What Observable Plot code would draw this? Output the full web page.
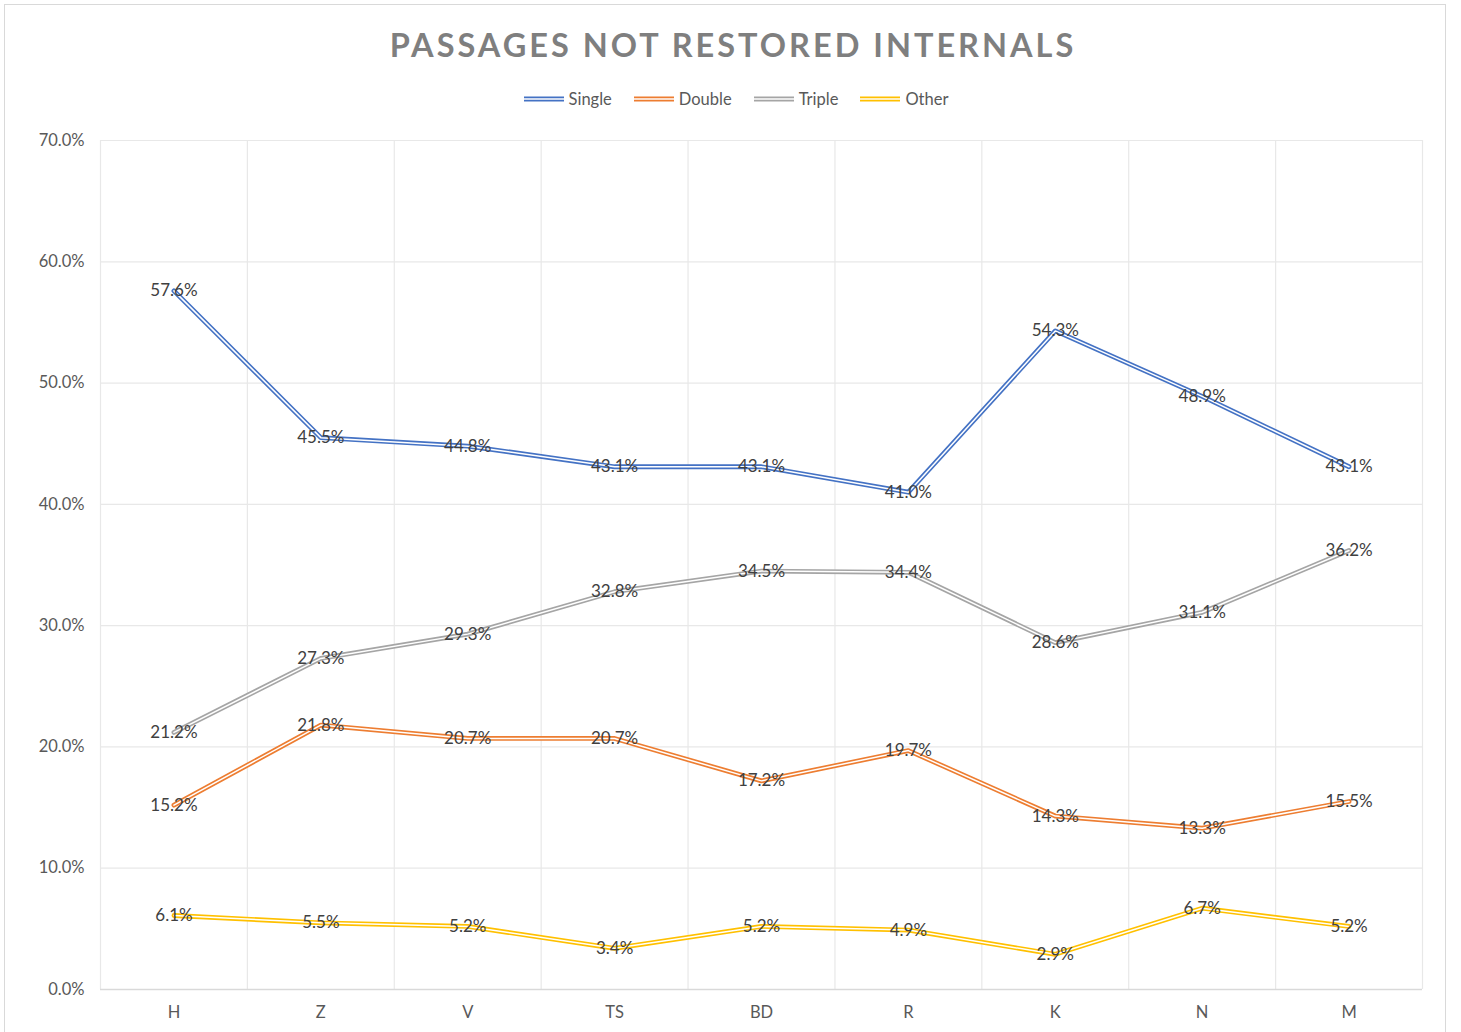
<!DOCTYPE html>
<html>
<head>
<meta charset="utf-8">
<script src="https://cdn.jsdelivr.net/npm/d3@7"></script>
<script src="https://cdn.jsdelivr.net/npm/@observablehq/plot@0.6"></script>
<style>
  html, body { margin: 0; padding: 0; background: #fff; }
  body { width: 1461px; height: 1032px; overflow: hidden; position: relative; font-family: Lato, "Open Sans", sans-serif; }
  #frame { position: absolute; left: 4px; top: 4px; width: 1442px; height: 1100px; border: 1.5px solid #d9d9d9; box-sizing: border-box; }
  #title { position: absolute; top: 25px; left: 0; width: 1466px; text-align: center; font-size: 32.5px; font-weight: bold; color: #7f7f7f; letter-spacing: 3px; }
  #legend { position: absolute; top: 89px; left: 0; width: 1472px; display: flex; justify-content: center; gap: 22px; font-size: 16.5px; color: #595959; }
  .item { display: flex; align-items: center; gap: 5px; }
  #chart { position: absolute; left: 0; top: 121px; }
</style>
</head>
<body>
<div id="frame"></div>
<div id="title">PASSAGES NOT RESTORED INTERNALS</div>
<div id="legend"></div>
<div id="chart"></div>
<script>
const categories = ["H", "Z", "V", "TS", "BD", "R", "K", "N", "M"];
const single = [57.6, 45.5, 44.8, 43.1, 43.1, 41.0, 54.3, 48.9, 43.1];
const double = [15.2, 21.8, 20.7, 20.7, 17.2, 19.7, 14.3, 13.3, 15.5];
const triple = [21.2, 27.3, 29.3, 32.8, 34.5, 34.4, 28.6, 31.1, 36.2];
const other  = [6.1, 5.5, 5.2, 3.4, 5.2, 4.9, 2.9, 6.7, 5.2];
const seriesNames = ["Single", "Double", "Triple", "Other"];
const seriesColors = ["#4472C4", "#ED7D31", "#A5A5A5", "#FFC000"];
const yTicks = [0, 10, 20, 30, 40, 50, 60, 70];

const seriesValues = [single, double, triple, other];
const data = [];
seriesNames.forEach((s, si) => {
  categories.forEach((c, ci) => data.push({series: s, cat: c, value: seriesValues[si][ci]}));
});

// legend
const legend = document.getElementById("legend");
seriesNames.forEach((s, i) => {
  const it = document.createElement("div");
  it.className = "item";
  it.innerHTML = `<svg width="40" height="8"><line x1="0" x2="40" y1="4" y2="4" stroke="${seriesColors[i]}" stroke-width="4.8"/><line x1="0" x2="40" y1="4" y2="4" stroke="#fff" stroke-width="1.5"/></svg><span>${s}</span>`;
  legend.appendChild(it);
});

const W = 1461, ML = 100, MR = 39;
const halfStep = (W - ML - MR) / categories.length / 2;

const chart = Plot.plot({
  width: W,
  height: 911,
  marginLeft: ML,
  marginRight: MR,
  marginTop: 19,
  marginBottom: 43,
  style: {fontFamily: "Lato, 'Open Sans', sans-serif", fontSize: "16.5px", color: "#595959", background: "transparent"},
  x: {type: "point", domain: categories, padding: 0.5, round: false, label: null},
  y: {domain: [0, 70], label: null},
  color: {domain: seriesNames, range: seriesColors},
  marks: [
    Plot.ruleY(yTicks.filter(d => d > 0), {stroke: "#e8e8e8", strokeWidth: 1.2}),
    Plot.ruleX(categories, {dx: -halfStep, stroke: "#e8e8e8", strokeWidth: 1.2}),
    Plot.ruleX(categories.slice(-1), {dx: halfStep, stroke: "#e8e8e8", strokeWidth: 1.2}),
    Plot.ruleY([0], {stroke: "#d9d9d9", strokeWidth: 1.5}),
    Plot.axisY({ticks: yTicks, tickFormat: d => d.toFixed(1) + "%", tickSize: 0, tickPadding: 16, fontSize: 16.5}),
    Plot.axisX({tickSize: 0, tickPadding: 17, fontSize: 16.5}),
    Plot.line(data, {x: "cat", y: "value", z: "series", stroke: "series", strokeWidth: 4.8}),
    Plot.line(data, {x: "cat", y: "value", z: "series", stroke: "#ffffff", strokeWidth: 1.5}),
    Plot.text(data, {x: "cat", y: "value", text: d => d.value.toFixed(1) + "%", fill: "#404040", fontSize: 17})
  ]
});
document.getElementById("chart").appendChild(chart);
</script>
</body>
</html>
